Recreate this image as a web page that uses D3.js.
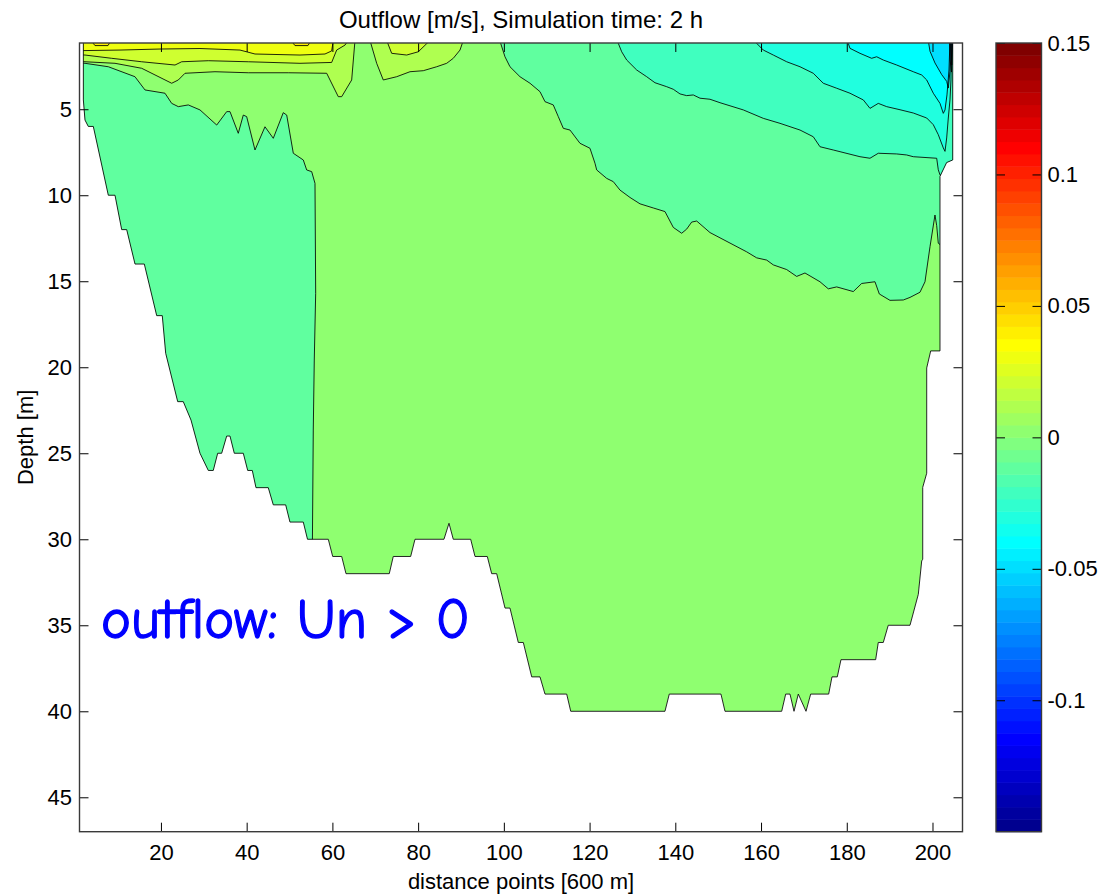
<!DOCTYPE html>
<html>
<head>
<meta charset="utf-8">
<script src="https://cdn.jsdelivr.net/npm/d3@7"></script>
<style>
  html, body { margin: 0; padding: 0; background: #fff; }
  svg { display: block; }
</style>
</head>
<body>
<svg id="chart" width="1114" height="896"></svg>
<script>
// ---------------- data ----------------
const distanceRange = [1, 207];        // distance points
const depthRange = [1.15, 47];         // depth [m]
const velocityRange = [-0.15, 0.15];   // colour axis [m/s]

const xTicks = [20, 40, 60, 80, 100, 120, 140, 160, 180, 200];
const yTicks = [5, 10, 15, 20, 25, 30, 35, 40, 45];
const colorbarTicks = [-0.1, -0.05, 0, 0.05, 0.1, 0.15];
const colorbarTickLabels = ["-0.1", "-0.05", "0", "0.05", "0.1", "0.15"];

// wet cross-section outline [distance point, depth]
const basinOutline = [
  [1.9, 1.15], [1.9, 4.46], [2.28, 5.63], [3.05, 6], [4.22, 6], [7.72, 10], [9.28, 10],
  [10.84, 12], [12.01, 12], [13.95, 14], [16.12, 14], [19.01, 17], [20.31, 17], [21.11, 19.19],
  [23.91, 22], [25.21, 22], [27.01, 23.07], [29.11, 25], [31.05, 26], [32.21, 26], [33.24, 25],
  [34.17, 25], [35.34, 24], [36.11, 24], [37.11, 25], [39.21, 25], [40.24, 26], [41.31, 26],
  [42.17, 27], [45.04, 27], [46.21, 28], [49.1, 28], [50.1, 29], [53.21, 29], [54.19, 30],
  [59.04, 30], [60.07, 31], [62.17, 31], [63.17, 32], [73.27, 32], [74.2, 31], [78.26, 31],
  [79.27, 30], [86.03, 30], [87.2, 29.07], [88.2, 30], [92.26, 30], [93.27, 31], [96.14, 31],
  [97.16, 32], [98.33, 32], [100.27, 34], [101.43, 34], [103.37, 36], [104.54, 36], [106.5, 38],
  [108.43, 38], [109.6, 39], [114.66, 39], [115.6, 40], [137.59, 40], [138.59, 39], [150.65, 39],
  [151.59, 40], [164.82, 40], [165.75, 39], [166.76, 39], [167.69, 40], [168.69, 39], [170.49, 40],
  [171.58, 39], [175.78, 39], [176.55, 38], [177.79, 38], [178.65, 37], [186.74, 37], [187.35, 36],
  [188.52, 36], [189.68, 35], [194.75, 35], [196.69, 33.2], [197.48, 31.26], [197.72, 31.16],
  [197.72, 26.98], [198.65, 26.16], [198.65, 20.04], [199.58, 19.05], [201.75, 19.05],
  [201.75, 8.9], [203.3, 8.1], [204.72, 7.95], [204.72, 1.15]
];

// iso-velocity lines [distance point, depth]
const isoNeg01West = [
  [1.0, 2.3], [2.28, 2.33], [7.72, 2.53], [13.94, 3.11], [16.28, 3.88], [20.94, 4.07],
  [22.51, 4.66], [24.05, 4.85], [26.38, 4.75], [29.11, 5.04], [33.01, 5.92], [35.34, 5.14],
  [36.11, 5.14], [38.04, 6.4], [39.21, 5.34], [40.0, 5.43], [41.94, 7.37], [44.27, 6.02],
  [46.21, 6.69], [48.54, 5.2], [49.34, 5.34], [50.88, 7.56], [53.21, 7.95], [54.0, 8.53],
  [55.17, 8.63], [55.94, 9.31], [56.1, 15.7], [55.77, 19.58], [55.54, 23.65], [55.31, 31.0]
];
const isoNeg01East = [
  [99.2, 1.0], [99.26, 1.17], [100.26, 1.95], [101.43, 2.53], [103.76, 3.11], [106.1, 3.49],
  [108.43, 3.98], [109.6, 4.56], [111.53, 4.75], [112.7, 5.43], [113.87, 6.11], [115.43, 6.21],
  [117.76, 6.98], [120.09, 7.27], [121.26, 8.14], [121.66, 8.53], [123.99, 9.02], [125.53, 9.21],
  [127.09, 9.7], [129.43, 10.13], [131.76, 10.5], [134.86, 10.74], [137.59, 10.95], [139.53, 11.87],
  [141.49, 12.21], [142.65, 11.97], [143.82, 11.56], [144.99, 11.5], [148.09, 12.17], [156.65, 13.29],
  [158.98, 13.64], [161.32, 13.77], [162.86, 14.05], [165.98, 14.32], [168.31, 14.72], [170.25, 14.52],
  [173.75, 15.03], [175.69, 15.44], [177.65, 15.33], [181.52, 15.6], [183.48, 15.13], [186.58, 15.03],
  [187.59, 15.74], [190.08, 16.11], [193.19, 16.09], [194.75, 15.94], [197.08, 15.64], [198.25, 15.03],
  [199.42, 12.99], [200.58, 11.15], [200.98, 11.77], [201.35, 12.79], [202.22, 12.95]
];
const isoNeg02 = [
  [126.65, 1.0], [126.7, 1.17], [127.49, 1.66], [128.66, 2.14], [130.99, 2.72], [133.32, 3.11],
  [135.26, 3.46], [137.99, 3.69], [139.53, 3.84], [141.09, 4.11], [142.65, 4.21], [144.19, 4.17],
  [145.76, 4.36], [148.09, 4.42], [150.42, 4.62], [155.86, 5.04], [160.53, 5.53], [164.42, 5.82],
  [169.09, 6.21], [172.19, 6.6], [173.75, 7.18], [176.85, 7.37], [183.08, 7.76], [185.42, 7.85],
  [187.35, 7.56], [191.65, 7.6], [193.98, 7.66], [195.52, 7.76], [200.98, 7.85], [201.35, 8.52],
  [201.75, 8.82], [202.68, 8.88]
];
const isoNeg03 = [
  [158.95, 1.0], [158.98, 1.17], [160.53, 1.56], [162.86, 1.85], [165.98, 2.24], [169.09, 2.53],
  [172.19, 2.91], [174.52, 3.49], [177.65, 3.78], [180.75, 4.07], [183.86, 4.46], [185.42, 4.95],
  [187.35, 4.66], [189.31, 4.85], [192.42, 5.03], [195.52, 5.22], [198.65, 5.51], [200.19, 5.9],
  [201.35, 6.48], [202.52, 7.25], [202.92, 7.45], [203.31, 6.67], [203.69, 5.51], [204.08, 4.46],
  [204.31, 3.3], [204.43, 1.0]
];
const isoNeg04 = [
  [180.3, 1.0], [180.35, 1.17], [180.75, 1.46], [183.08, 1.75], [185.81, 2.04], [186.98, 1.95],
  [188.52, 2.14], [191.65, 2.43], [195.52, 2.82], [197.48, 3.01], [198.65, 3.3], [200.19, 4.07],
  [201.75, 4.66], [202.52, 5.24], [202.92, 5.04], [203.38, 4.17], [203.85, 2.72], [204.08, 1.0]
];
const isoNeg05 = [
  [199.0, 1.0], [199.42, 1.63], [200.58, 2.31], [202.15, 2.99], [203.31, 3.38], [203.69, 3.77],
  [204.08, 2.8], [204.24, 1.0]
];
const isoNeg06 = [[203.96, 1.0], [204.12, 2.14], [204.43, 2.84], [204.66, 1.0]];
const isoNeg07 = [[204.31, 1.0], [204.5, 2.43], [204.72, 1.0]];

const isoPos01West = [
  [1.0, 2.22], [2.28, 2.24], [9.28, 2.33], [15.51, 2.62], [22.51, 3.49], [24.05, 3.3],
  [25.61, 2.91], [32.61, 2.82], [40.38, 2.88], [49.71, 2.88], [58.67, 2.91], [61.37, 4.27],
  [62.17, 4.27], [64.5, 3.3], [65.27, 1.0]
];
const isoPos01Mid = [
  [68.77, 1.0], [70.33, 2.33], [71.87, 3.3], [75.0, 3.11], [78.1, 2.82], [81.2, 2.76],
  [84.33, 2.53], [86.66, 2.33], [88.2, 2.04], [89.77, 1.56], [90.54, 1.0]
];
const isoPos02West = [
  [1.0, 1.84], [2.28, 1.85], [8.51, 2.04], [15.51, 2.24], [23.28, 2.43], [24.84, 2.24],
  [31.05, 2.18], [40.38, 2.24], [52.44, 2.33], [59.83, 2.28], [61.0, 1.56], [62.94, 1.27],
  [63.71, 1.0]
];
const isoPos02Mid = [[72.66, 1.0], [73.83, 1.75], [77.33, 1.85], [80.04, 1.66], [82.77, 1.0]];
const isoPos03 = [
  [1.0, 1.59], [2.28, 1.59], [10.45, 1.56], [19.78, 1.5], [29.11, 1.47], [38.44, 1.56],
  [41.94, 1.79], [52.44, 1.85], [58.27, 1.79], [59.83, 1.61], [60.21, 1.0]
];
const isoPos04West = [[3.68, 1.0], [4.61, 1.3], [7.65, 1.3], [8.35, 1.0]];
const isoPos04Mid = [[50.34, 1.0], [51.27, 1.3], [54.3, 1.3], [55.0, 1.0]];

// filled bands, painted from the background level outwards
const bands = [
  { level: -0.01, line: isoNeg01West, close: [[55.31, 34], [0, 34], [0, 2.3]] },
  { level: -0.01, line: isoNeg01East, close: [[210, 12.95], [210, 0.5], [99.2, 0.5]] },
  { level: -0.02, line: isoNeg02, close: [[210, 8.88], [210, 0.5], [126.65, 0.5]] },
  { level: -0.03, line: isoNeg03, close: [] },
  { level: -0.04, line: isoNeg04, close: [] },
  { level: -0.05, line: isoNeg05, close: [] },
  { level: -0.06, line: isoNeg06, close: [] },
  { level: -0.07, line: isoNeg07, close: [] },
  { level: 0.01, line: isoPos01West, close: [[0, 0.5]] },
  { level: 0.01, line: isoPos01Mid, close: [] },
  { level: 0.02, line: isoPos02West, close: [[0, 0.5]] },
  { level: 0.02, line: isoPos02Mid, close: [] },
  { level: 0.03, line: isoPos03, close: [[0, 0.5]] },
  { level: 0.04, line: isoPos04West, close: [] },
  { level: 0.04, line: isoPos04Mid, close: [] }
];
const backgroundLevel = 0;

// ---------------- colour map (64-step jet) ----------------
const jet64 = (() => {
  const m = 16, u = [];
  for (let k = 1; k <= m; k++) u.push(k / m);
  for (let k = 1; k < m; k++) u.push(1);
  for (let k = m; k >= 1; k--) u.push(k / m);
  const r = new Array(64).fill(0), g = new Array(64).fill(0), b = new Array(64).fill(0);
  u.forEach((val, k) => {
    const gi = 8 + k, ri = gi + m, bi = gi - m;
    if (gi >= 0 && gi < 64) g[gi] = val;
    if (ri >= 0 && ri < 64) r[ri] = val;
    if (bi >= 0 && bi < 64) b[bi] = val;
  });
  for (let i = 0; i < 8; i++) b[i] = u[i + 8];
  return d3.range(64).map(i => d3.rgb(Math.round(r[i] * 255), Math.round(g[i] * 255), Math.round(b[i] * 255)).formatHex());
})();
const color = d3.scaleQuantize().domain(velocityRange).range(jet64);

// ---------------- layout ----------------
const svg = d3.select("#chart");
const FONT = "'Liberation Sans', Arial, Helvetica, sans-serif";
const plot = { left: 79.5, right: 962.5, top: 43, bottom: 831.7 };
const cb = { left: 996, right: 1041.5, top: 43, bottom: 831.7 };

const x = d3.scaleLinear().domain(distanceRange).range([plot.left, plot.right]);
const y = d3.scaleLinear().domain(depthRange).range([plot.top, plot.bottom]);
const cy = d3.scaleLinear().domain(velocityRange).range([cb.bottom, cb.top]);

const line = d3.line().x(d => x(d[0])).y(d => y(d[1]));

svg.append("rect").attr("width", 1114).attr("height", 896).attr("fill", "#fff");

const defs = svg.append("defs");
defs.append("clipPath").attr("id", "basin-clip")
  .append("path").attr("d", line(basinOutline) + "Z");

const field = svg.append("g").attr("clip-path", "url(#basin-clip)");

// background band
field.append("path")
  .attr("d", line(basinOutline) + "Z")
  .attr("fill", color(backgroundLevel));

// filled bands
field.selectAll("path.band")
  .data(bands)
  .join("path")
  .attr("class", "band")
  .attr("d", d => line(d.line.concat(d.close)) + "Z")
  .attr("fill", d => color(d.level));

// contour lines
field.selectAll("path.iso")
  .data(bands)
  .join("path")
  .attr("class", "iso")
  .attr("d", d => line(d.line))
  .attr("fill", "none")
  .attr("stroke", "#000")
  .attr("stroke-width", 1)
  .attr("stroke-opacity", 0.85)
  .attr("stroke-linejoin", "round");

// basin edge
svg.append("path")
  .attr("d", line(basinOutline))
  .attr("fill", "none")
  .attr("stroke", "#000")
  .attr("stroke-width", 1)
  .attr("stroke-opacity", 0.85);

// ---------------- axes ----------------
function styleAxis(g) {
  g.select(".domain").remove();
  g.selectAll(".tick line").attr("stroke", "#000").attr("stroke-width", 1);
  g.selectAll(".tick text").attr("fill", "#000");
  g.attr("font-family", FONT).attr("font-size", 22);
}

svg.append("g").attr("transform", `translate(0,${plot.bottom})`)
  .call(d3.axisBottom(x).tickValues(xTicks).tickSize(-9).tickPadding(13).tickFormat(d3.format("d")))
  .call(styleAxis);
svg.append("g").attr("transform", `translate(0,${plot.top})`)
  .call(d3.axisTop(x).tickValues(xTicks).tickSize(-9).tickFormat(""))
  .call(styleAxis);
svg.append("g").attr("transform", `translate(${plot.left},0)`)
  .call(d3.axisLeft(y).tickValues(yTicks).tickSize(-9).tickPadding(7.5).tickFormat(d3.format("d")))
  .call(styleAxis);
svg.append("g").attr("transform", `translate(${plot.right},0)`)
  .call(d3.axisRight(y).tickValues(yTicks).tickSize(-9).tickFormat(""))
  .call(styleAxis);

svg.append("rect")
  .attr("x", plot.left).attr("y", plot.top)
  .attr("width", plot.right - plot.left).attr("height", plot.bottom - plot.top)
  .attr("fill", "none").attr("stroke", "#3a3a3a").attr("stroke-width", 1.4);

// ---------------- colour bar ----------------
const step = (velocityRange[1] - velocityRange[0]) / jet64.length;
svg.append("g").selectAll("rect")
  .data(d3.range(jet64.length))
  .join("rect")
  .attr("x", cb.left)
  .attr("width", cb.right - cb.left)
  .attr("y", i => cy(velocityRange[0] + (i + 1) * step))
  .attr("height", i => cy(velocityRange[0] + i * step) - cy(velocityRange[0] + (i + 1) * step) + 0.5)
  .attr("fill", i => color(velocityRange[0] + (i + 0.5) * step));

svg.append("g").attr("transform", `translate(${cb.right},0)`)
  .call(d3.axisRight(cy).tickValues(colorbarTicks).tickSize(-9).tickPadding(6)
    .tickFormat((d, i) => colorbarTickLabels[i]))
  .call(styleAxis);
svg.append("g").attr("transform", `translate(${cb.left},0)`)
  .call(d3.axisLeft(cy).tickValues(colorbarTicks).tickSize(-9).tickFormat(""))
  .call(styleAxis);
svg.append("rect")
  .attr("x", cb.left).attr("y", cb.top)
  .attr("width", cb.right - cb.left).attr("height", cb.bottom - cb.top)
  .attr("fill", "none").attr("stroke", "#3a3a3a").attr("stroke-width", 1.4);

// ---------------- text ----------------
svg.append("text")
  .attr("x", (plot.left + plot.right) / 2).attr("y", 28)
  .attr("text-anchor", "middle")
  .attr("font-family", FONT).attr("font-size", 24)
  .text("Outflow [m/s], Simulation time: 2 h");

svg.append("text")
  .attr("x", (plot.left + plot.right) / 2).attr("y", 889)
  .attr("text-anchor", "middle")
  .attr("font-family", FONT).attr("font-size", 22)
  .text("distance points [600 m]");

svg.append("text")
  .attr("transform", `translate(33,${(plot.top + plot.bottom) / 2}) rotate(-90)`)
  .attr("text-anchor", "middle")
  .attr("font-family", FONT).attr("font-size", 22)
  .text("Depth [m]");

svg.append("text")
  .attr("x", 101).attr("y", 638)
  .attr("font-family", "'Comic Sans MS', 'Comic Neue', 'DejaVu Sans', sans-serif")
  .attr("font-size", 57)
  .attr("fill", "#0000ff")
  .attr("stroke", "#0000ff")
  .attr("stroke-width", 1.3)
  .attr("textLength", 369)
  .attr("lengthAdjust", "spacingAndGlyphs")
  .text("outflow: Un > 0");
</script>
</body>
</html>
